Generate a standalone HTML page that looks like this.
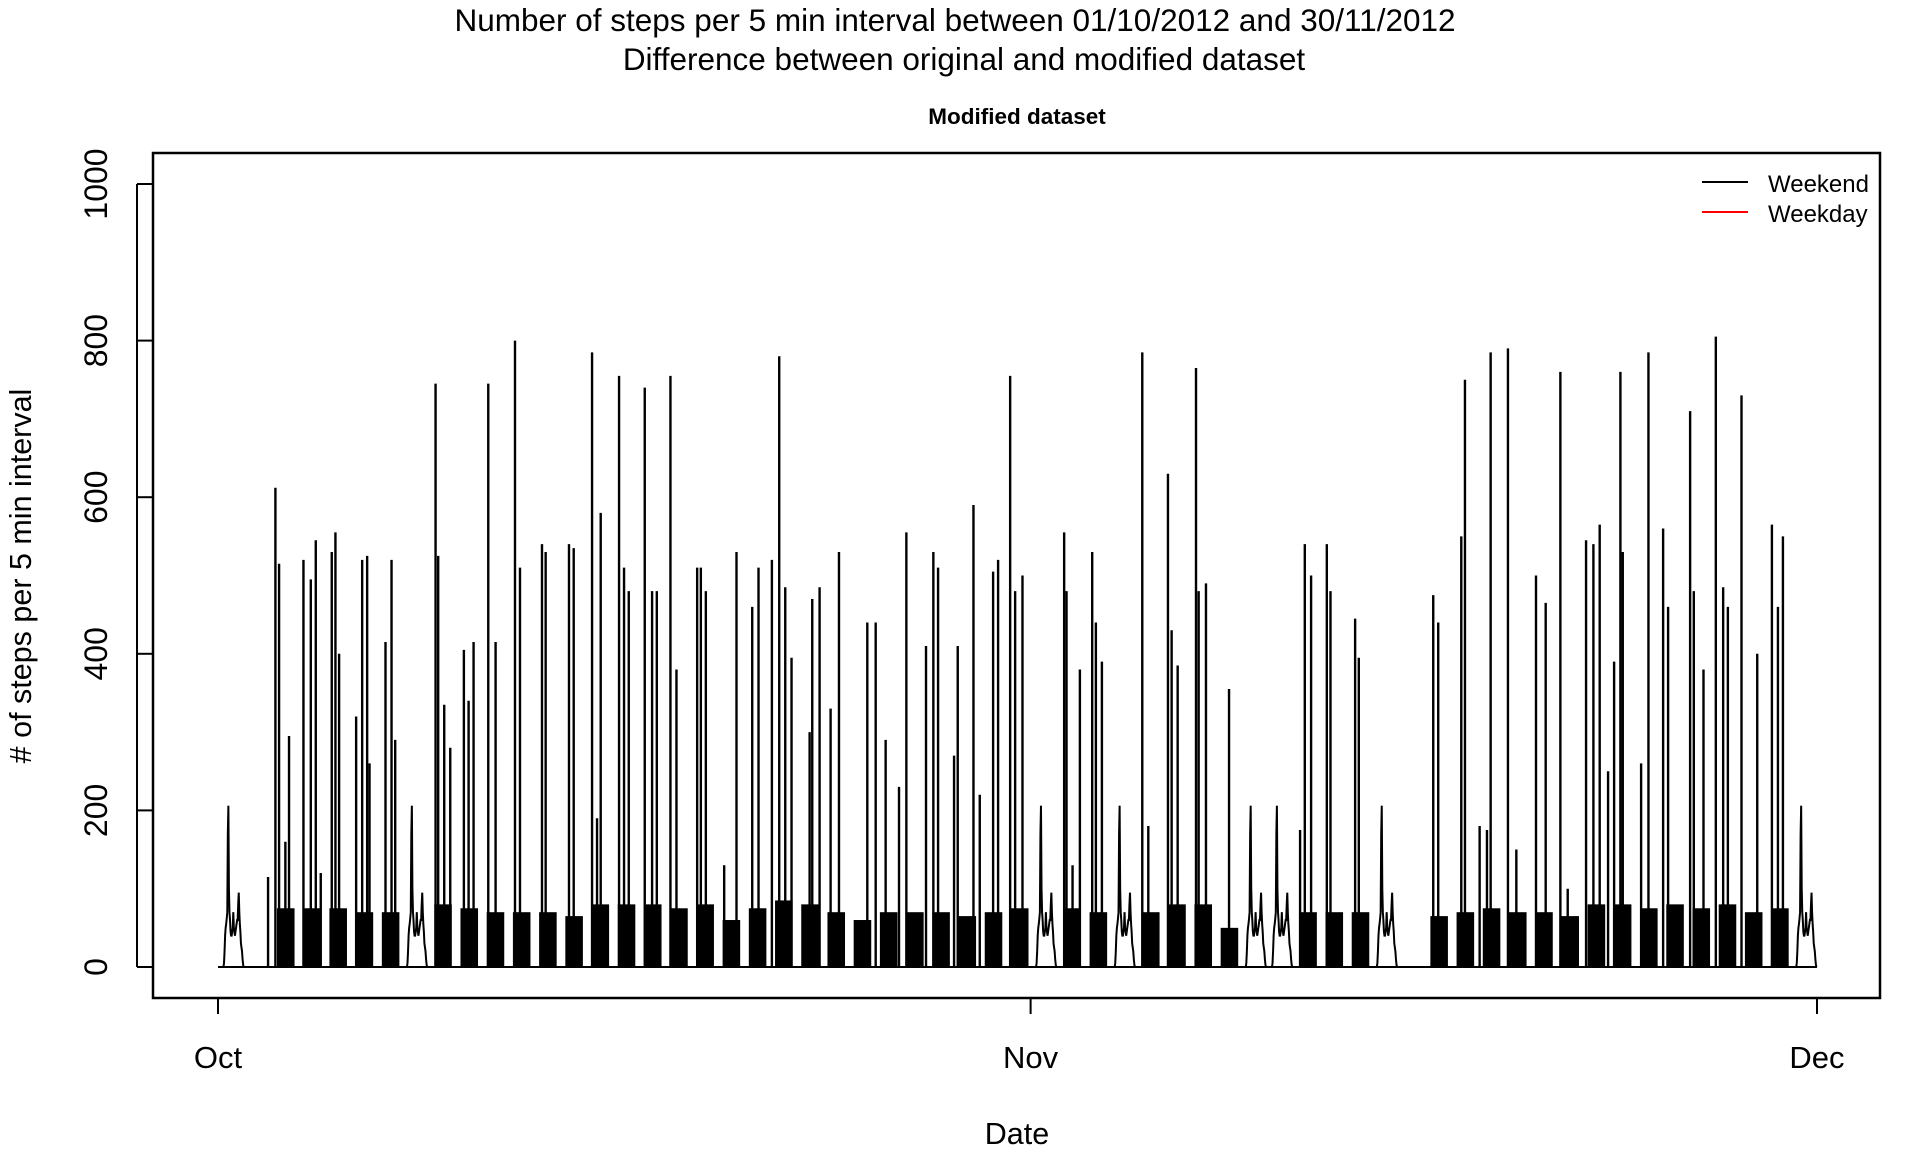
<!DOCTYPE html>
<html><head><meta charset="utf-8"><style>
html,body{margin:0;padding:0;background:#fff}
svg{display:block;font-family:"Liberation Sans",Arial,sans-serif}
</style></head><body>
<svg id="chart" width="1920" height="1152" viewBox="0 0 1920 1152">
<text x="955" y="31" font-size="31.5" text-anchor="middle">Number of steps per 5 min interval between 01/10/2012 and 30/11/2012</text>
<text x="964" y="70" font-size="31.5" text-anchor="middle">Difference between original and modified dataset</text>
<text x="1017" y="124" font-size="22.5" font-weight="bold" text-anchor="middle">Modified dataset</text>
<g id="marks"></g>
<rect x="153" y="153" width="1727" height="845" fill="none" stroke="#000" stroke-width="2.5"/>
<g id="yaxis"></g>
<g id="xaxis"></g>
<text transform="translate(31,576) rotate(-90)" font-size="30.5" text-anchor="middle"># of steps per 5 min interval</text>
<text x="1017" y="1144" font-size="30.5" text-anchor="middle">Date</text>
<g>
<line x1="1702" y1="182" x2="1748" y2="182" stroke="#000" stroke-width="2"/>
<text x="1768" y="192" font-size="24">Weekend</text>
<line x1="1702" y1="212" x2="1748" y2="212" stroke="#f00" stroke-width="2"/>
<text x="1768" y="222" font-size="24">Weekday</text>
</g>
</svg>
<script>
const yTicks=[0,200,400,600,800,1000];
const xTickLabels=["Oct","Nov","Dec"];
const xTickDays=[0,31,61];
const naDays=[0,7,31,34,39,40,44,60];
const meanProfile=[0,0,0,0,0,0,0,0,0,0,0,5,20,40,50,55,62,70,170,206,100,70,60,45,40,40,45,50,70,50,45,40,45,50,55,60,60,80,95,70,55,45,30,25,20,10,3,0];
const dayLevel=[0,40,75,75,75,70,70,0,80,75,70,70,70,65,80,80,80,75,80,60,75,85,80,70,60,70,70,70,65,70,75,0,75,70,0,70,80,80,50,0,0,70,70,70,0,0,65,70,75,70,70,65,80,80,75,80,75,80,70,75,0];
const spikeDays=[1.91,2.19,2.33,2.57,2.71,3.26,3.54,3.73,3.92,4.34,4.48,4.62,5.27,5.50,5.69,5.78,6.39,6.62,6.76,8.30,8.40,8.63,8.86,9.38,9.56,9.75,10.31,10.59,11.33,11.52,12.36,12.50,13.39,13.57,14.27,14.46,14.60,15.30,15.49,15.67,16.28,16.56,16.74,17.26,17.49,18.28,18.42,18.61,19.31,19.78,20.38,20.62,21.13,21.41,21.64,21.88,22.57,22.67,22.95,23.37,23.69,24.77,25.09,25.47,25.98,26.26,27.01,27.29,27.47,28.08,28.22,28.82,29.06,29.57,29.76,30.22,30.41,30.69,32.28,32.37,32.60,32.88,33.35,33.49,33.72,35.26,35.49,36.24,36.38,36.61,37.31,37.41,37.69,38.57,41.28,41.46,41.70,42.30,42.44,43.38,43.52,46.36,46.55,47.43,47.57,48.13,48.41,48.55,49.21,49.53,50.28,50.65,51.21,51.49,52.19,52.47,52.71,53.03,53.26,53.50,53.59,54.29,54.57,55.13,55.32,56.16,56.30,56.67,57.14,57.42,57.60,58.12,58.72,59.28,59.51,59.70];
const spikeValues=[115,612,515,160,295,520,495,545,120,530,555,400,320,520,525,260,415,520,290,745,525,335,280,405,340,415,745,415,800,510,540,530,540,535,785,190,580,755,510,480,740,480,480,755,380,510,510,480,130,530,460,510,520,780,485,395,300,470,485,330,530,440,440,290,230,555,410,530,510,270,410,590,220,505,520,755,480,500,555,480,130,380,530,440,390,785,180,630,430,385,765,480,490,355,175,540,500,540,480,445,395,475,440,550,750,180,175,785,790,150,500,465,760,100,545,540,565,250,390,760,530,260,785,560,460,710,480,380,805,485,460,730,400,565,460,550];

const X0=218,PXD=(1817-218)/61,Y0=967,PYV=(967-184)/1000;
const xs=d=>X0+d*PXD, ys=v=>Y0-v*PYV;
const NS="http://www.w3.org/2000/svg";
const g=document.getElementById('marks');
function mk(t,a,p){const e=document.createElementNS(NS,t);for(const k in a)e.setAttribute(k,a[k]);(p||g).appendChild(e);return e;}

let bl=mk('line',{x1:xs(0),y1:ys(0),x2:xs(61),y2:ys(0),stroke:'#000','stroke-width':2});



naDays.forEach(d=>{
  let pts=meanProfile.map((v,i)=>xs(d+i/meanProfile.length)+','+ys(v)).join(' ');
  const p=mk('polyline',{points:pts,fill:'none',stroke:'#000','stroke-width':2});
  
  
});

dayLevel.forEach((lv,d)=>{
  if(lv<=0)return;
  const s=d===1?0.9:0.25, e=0.92;
  const r=mk('rect',{x:xs(d+s),y:ys(lv),width:xs(d+e)-xs(d+s),height:ys(0)-ys(lv),fill:'#000'});
  
  
});

spikeDays.forEach((d,i)=>{
  const l=mk('line',{x1:xs(d),y1:ys(0),x2:xs(d),y2:ys(spikeValues[i]),stroke:'#000','stroke-width':2.4});
  
  
});

const ya=document.getElementById('yaxis');
mk('line',{x1:137,y1:ys(0),x2:137,y2:ys(1000),stroke:'#000','stroke-width':2},ya);
yTicks.forEach(v=>{
  const t=mk('line',{x1:137,y1:ys(v),x2:153,y2:ys(v),stroke:'#000','stroke-width':2},ya);
  
  
  const tx=mk('text',{transform:`translate(107,${ys(v)}) rotate(-90)`,'font-size':32,'text-anchor':'middle'},ya);
  tx.textContent=v;
  
  
});
const xa=document.getElementById('xaxis');
xTickDays.forEach((d,i)=>{
  const t=mk('line',{x1:xs(d),y1:998,x2:xs(d),y2:1014,stroke:'#000','stroke-width':2},xa);
  
  
  const tx=mk('text',{x:xs(d),y:1068,'font-size':31,'text-anchor':'middle'},xa);
  tx.textContent=xTickLabels[i];
  
  
});
</script>
</body></html>
